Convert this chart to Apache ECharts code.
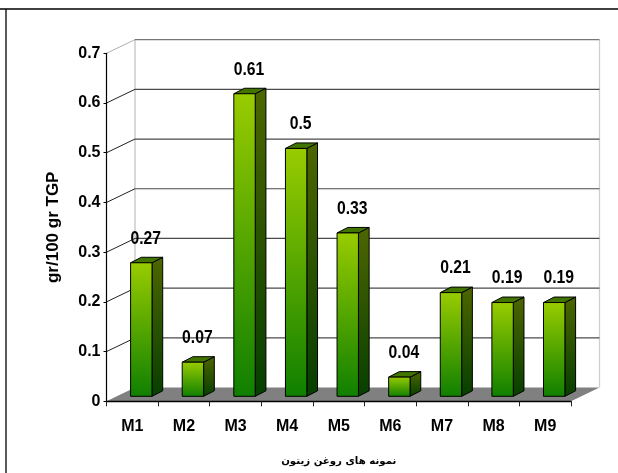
<!DOCTYPE html>
<html>
<head>
<meta charset="utf-8">
<style>html,body{margin:0;padding:0;background:#fff}#c{width:618px;height:473px}</style>
<script src="https://cdn.jsdelivr.net/npm/echarts@6/dist/echarts.min.js"></script>
</head>
<body>
<div id="c"></div>
<script>
var categories = ['M1','M2','M3','M4','M5','M6','M7','M8','M9'];
var values = [0.27,0.07,0.61,0.5,0.33,0.04,0.21,0.19,0.19];
var yTicks = [0.1,0.2,0.3,0.4,0.5,0.6,0.7];
var yName = 'gr/100 gr TGP';
var xName = 'نمونه های روغن زیتون';

var WALL_DX = 28.5, WALL_DY = 13.7;
var BAR_SHIFT_X = 9, BAR_SHIFT_Y = 5, BAR_W = 21.4, DEPTH_X = 10.7, DEPTH_Y = 5.5;
var SANS = '"Liberation Sans",Arial,sans-serif';

function grad(a, b) {
  return new echarts.graphic.LinearGradient(0, 0, 0, 1, [{offset:0,color:a},{offset:1,color:b}]);
}
function floorItem(params, api) {
  var r = params.coordSys;
  var l = r.x, rt = r.x + r.width, b = r.y + r.height;
  return {type:'group', children:[
    {type:'polygon', shape:{points:[[l,b],[rt,b],[rt+WALL_DX,b-WALL_DY],[l+WALL_DX,b-WALL_DY]]},
     style:{fill:'#808080'}},
    {type:'line', shape:{x1:l+WALL_DX,y1:r.y-WALL_DY,x2:l+WALL_DX,y2:b-WALL_DY}, style:{stroke:'#c4c4c4',lineWidth:1.3}},
    {type:'line', shape:{x1:rt+WALL_DX,y1:r.y-WALL_DY,x2:rt+WALL_DX,y2:b-WALL_DY}, style:{stroke:'#cfcfcf',lineWidth:1.3}}
  ]};
}
function wallItem(params, api) {
  var r = params.coordSys;
  var y = api.coord([0, api.value(0)])[1];
  var top = api.value(0) > 0.65;
  return {type:'group', children:[
    {type:'line', shape:{x1:r.x+WALL_DX,y1:y-WALL_DY,x2:r.x+r.width+WALL_DX,y2:y-WALL_DY},
     style:{stroke:top?'#777777':'#4a4a4a',lineWidth:1.2}},
    {type:'line', shape:{x1:r.x,y1:y,x2:r.x+WALL_DX,y2:y-WALL_DY},
     style:{stroke:top?'#b0b0b0':'#222222',lineWidth:1}}
  ]};
}
function barItem(params, api) {
  var i = api.value(0), v = api.value(1);
  var p = api.coord([i, v]), o = api.coord([i, 0]);
  var x0 = p[0] + BAR_SHIFT_X - BAR_W/2, x1 = x0 + BAR_W;
  var yt = p[1] - BAR_SHIFT_Y + 0.7, yb = o[1] - BAR_SHIFT_Y;
  var edge = {stroke:'#000',lineWidth:1,lineJoin:'round'};
  return {type:'group', children:[
    {type:'polygon', shape:{points:[[x1,yt],[x1+DEPTH_X,yt-DEPTH_Y],[x1+DEPTH_X,yb-DEPTH_Y],[x1,yb]]},
     style:Object.assign({fill:grad('#4d6600','#063f00')},edge)},
    {type:'polygon', shape:{points:[[x0,yt],[x1,yt],[x1+DEPTH_X,yt-DEPTH_Y],[x0+DEPTH_X,yt-DEPTH_Y]]},
     style:Object.assign({fill:'#417500'},edge)},
    {type:'rect', shape:{x:x0,y:yt,width:BAR_W,height:yb-yt},
     style:Object.assign({fill:grad('#99cc00','#0f7f00')},edge)},
    {type:'text', x:x0+BAR_W/2+4.5, y:yt-24.3, scaleX:0.85, z2:50,
     style:{text:String(v),fontFamily:SANS,fontWeight:'bold',fontSize:18.5,fill:'#000',align:'center',verticalAlign:'middle'}}
  ]};
}
var chart = echarts.init(document.getElementById('c'), null, {renderer:'canvas'});
chart.setOption({
  animation:false,
  backgroundColor:'#fff',
  graphic:[
    {type:'line', silent:true, shape:{x1:0,y1:9,x2:618,y2:9}, style:{stroke:'#000',lineWidth:1.3}},
    {type:'line', silent:true, shape:{x1:6,y1:9,x2:6,y2:473}, style:{stroke:'#000',lineWidth:1.3}}
  ],
  grid:{left:106.5,top:53.3,width:464.5,height:348},
  xAxis:{
    type:'category', data:categories, z:5,
    axisLine:{lineStyle:{color:'#000',width:1.4}},
    axisTick:{show:true,alignWithLabel:false,length:5,lineStyle:{color:'#222'}},
    axisLabel:{margin:17,color:'#000',fontFamily:SANS,fontWeight:'bold',fontSize:16},
    name:xName, nameLocation:'middle', nameGap:55,
    nameTextStyle:{color:'#000',fontFamily:'"DejaVu Sans",sans-serif',fontWeight:'bold',fontSize:10.2}
  },
  yAxis:{
    type:'value', min:0, max:0.7, interval:0.1, z:5,
    splitLine:{show:false},
    axisLine:{show:true,lineStyle:{color:'#000',width:1.2}},
    axisTick:{show:true,length:3,lineStyle:{color:'#000'}},
    axisLabel:{margin:6,color:'#000',fontFamily:SANS,fontWeight:'bold',fontSize:16},
    name:yName, nameLocation:'middle', nameGap:45, nameRotate:90,
    nameTextStyle:{color:'#000',fontFamily:SANS,fontWeight:'bold',fontSize:17}
  },
  series:[
    {type:'custom', silent:true, z:1, coordinateSystem:'cartesian2d', renderItem:floorItem, data:[[0,0]], encode:{x:0,y:1}},
    {type:'custom', silent:true, z:2, coordinateSystem:'cartesian2d', renderItem:wallItem,
     data:yTicks.map(function(t){return [t];}), encode:{y:0}},
    {type:'custom', silent:true, z:6, coordinateSystem:'cartesian2d', renderItem:barItem,
     data:values.map(function(v,i){return [i,v];}), encode:{x:0,y:1}}
  ]
});
</script>
</body>
</html>
